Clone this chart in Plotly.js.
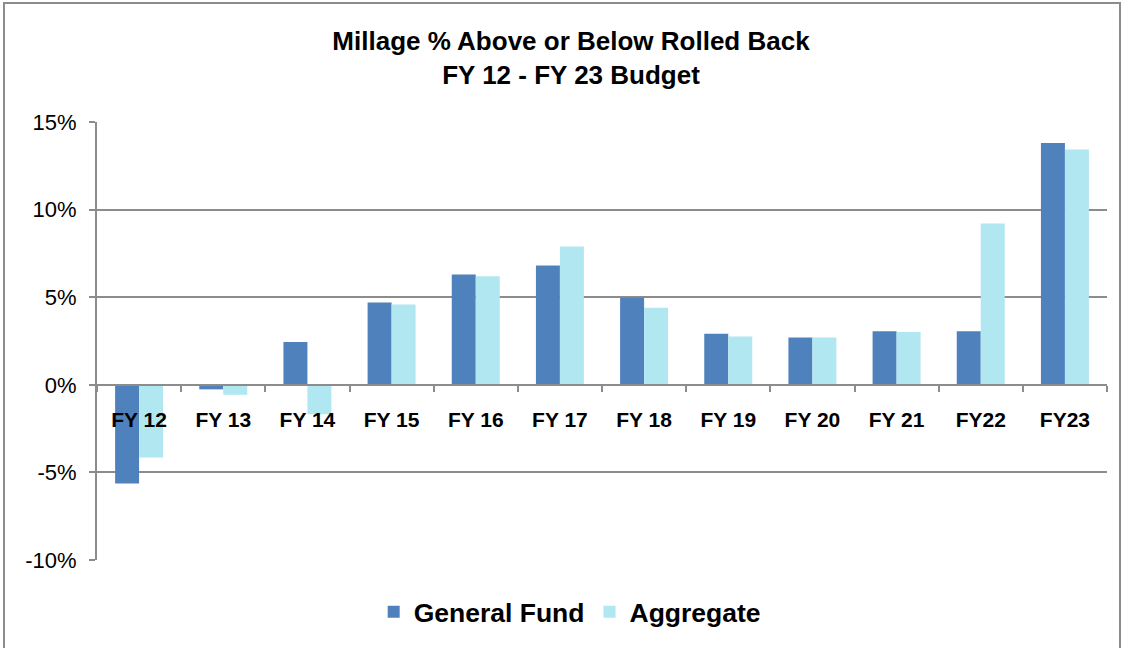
<!DOCTYPE html>
<html>
<head>
<meta charset="utf-8">
<script src="https://cdn.plot.ly/plotly-3.0.1.min.js"></script>
<style>
  html, body { margin: 0; padding: 0; background: #fff; }
  #wrap { position: relative; width: 1130px; height: 648px; overflow: hidden; }
  #frame { position: absolute; left: 3px; top: 2px; width: 1118px; height: 700px; border: 2px solid #8c8c8c; box-sizing: border-box; pointer-events: none; }
  #chart { position: absolute; left: 0; top: 0; width: 1130px; height: 648px; }
</style>
</head>
<body>
<div id="wrap">
  <div id="chart"></div>
  <div id="frame"></div>
</div>
<script>
const categories = ['FY 12','FY 13','FY 14','FY 15','FY 16','FY 17','FY 18','FY 19','FY 20','FY 21','FY22','FY23'];
const generalFund = [-5.63, -0.26, 2.45, 4.70, 6.30, 6.81, 4.97, 2.91, 2.70, 3.05, 3.05, 13.80];
const aggregate  = [-4.15, -0.57, -1.68, 4.58, 6.19, 7.90, 4.40, 2.76, 2.70, 3.02, 9.20, 13.43];
const yTickVals = [-10, -5, 0, 5, 10, 15];
const yTickText = ['-10%', '-5%', '0%', '5%', '10%', '15%'];
const seriesNames = ['General Fund', 'Aggregate'];

const font = 'Liberation Sans, Arial, sans-serif';
const grid = '#8c8c8c';

const traces = [
  { type: 'bar', name: seriesNames[0], x: categories, y: generalFund,
    marker: { color: '#4F81BD', line: { color: '#4F81BD', width: 0 } } },
  { type: 'bar', name: seriesNames[1], x: categories, y: aggregate,
    marker: { color: '#B0E7F1', line: { color: '#B0E7F1', width: 0 } } }
];

const layout = {
  width: 1130, height: 648,
  margin: { l: 97, r: 23, t: 122, b: 88 },
  paper_bgcolor: '#ffffff', plot_bgcolor: '#ffffff',
  font: { family: font, color: '#000' },
  title: {
    text: '<b>Millage % Above or Below Rolled Back<br>FY 12 - FY 23 Budget</b>',
    font: { family: font, size: 26, color: '#000' },
    x: 571/1130, xanchor: 'center', xref: 'container',
    y: 1 - 50/648, yref: 'container', yanchor: 'middle'
  },
  barmode: 'group', bargap: 0.43, bargroupgap: 0,
  showlegend: true,
  legend: {
    orientation: 'h', x: 0.468, xanchor: 'center', y: -0.119, yanchor: 'middle',
    font: { family: font, size: 26.5, color: '#000', weight: 'bold' },
    itemwidth: 30, traceorder: 'normal'
  },
  xaxis: {
    type: 'category', anchor: 'free', position: 0.4,
    showline: true, linecolor: grid, linewidth: 2,
    showgrid: false, zeroline: false,
    ticks: 'outside', tickson: 'boundaries', ticklen: 6, tickcolor: grid, tickwidth: 2,
    ticklabelstandoff: 16,
    tickfont: { family: font, size: 21, color: '#000', weight: 'bold' }
  },
  yaxis: {
    range: [-10, 15], tickvals: yTickVals, ticktext: yTickText,
    showline: true, linecolor: grid, linewidth: 2,
    showgrid: true, gridcolor: grid, gridwidth: 2,
    zeroline: false,
    ticks: 'outside', ticklen: 6, tickcolor: grid, tickwidth: 2,
    ticklabelstandoff: 8,
    tickfont: { family: font, size: 22, color: '#000' }
  }
};

Plotly.newPlot('chart', traces, layout, { displayModeBar: false, staticPlot: true });
</script>
</body>
</html>
